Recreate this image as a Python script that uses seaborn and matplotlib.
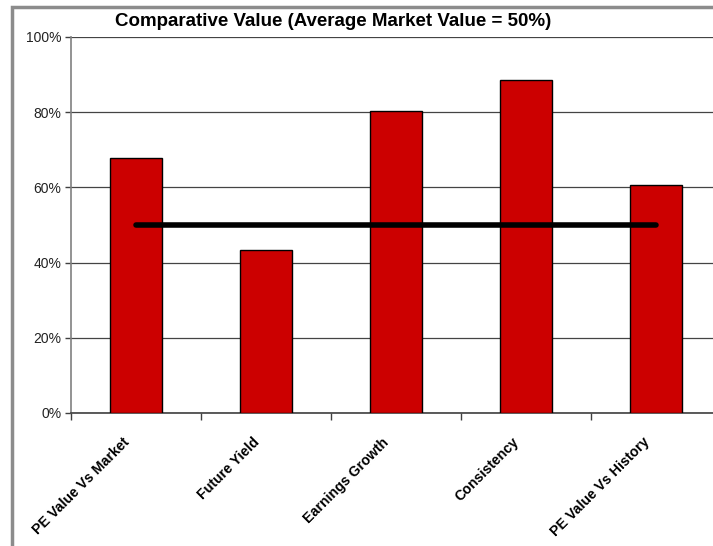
import matplotlib
matplotlib.use("Agg")
import matplotlib.pyplot as plt
import matplotlib.transforms as mtransforms
import seaborn as sns
import pandas as pd
from matplotlib.patches import Rectangle
from matplotlib.ticker import FuncFormatter, FixedLocator, NullFormatter

# Chart values (percent)
categories = ["PE Value Vs Market", "Future Yield", "Earnings Growth",
              "Consistency", "PE Value Vs History"]
scores = [67.8, 43.4, 80.3, 88.6, 60.6]
market_avg = 50
y_ticks = [0, 20, 40, 60, 80, 100]

df = pd.DataFrame({"category": categories, "score": scores})

sns.set_theme(style="white")
plt.rcParams["font.family"] = ["Liberation Sans", "DejaVu Sans"]

fig = plt.figure(figsize=(7.13, 5.46), dpi=100)
ax = fig.add_axes([71 / 713, 133 / 546, 650 / 713, 376 / 546])

# Grey chart-area border
fig.patches.append(Rectangle((12 / 713, -0.1), 1.2, (539 / 546) + 0.1,
                             transform=fig.transFigure, fill=False,
                             edgecolor="#8c8c8c", linewidth=2.5))

sns.barplot(data=df, x="category", y="score", color="#CC0000", width=0.4,
            edgecolor="black", linewidth=1.0, saturation=1, ax=ax, zorder=3)

# Average market value line
ax.plot([categories[0], categories[-1]], [market_avg, market_avg],
        color="black", linewidth=4, solid_capstyle="round", zorder=4)

ax.set_xlim(-0.5, len(categories) - 0.5)
ax.set_ylim(0, 100)
ax.set_yticks(y_ticks)
ax.yaxis.set_major_formatter(FuncFormatter(lambda v, p: f"{v:.0f}%"))
ax.yaxis.grid(True, color="#444444", linewidth=0.9, zorder=0)
ax.set_axisbelow(True)

# category boundary ticks; labels drawn separately, rotated
ax.xaxis.set_major_locator(FixedLocator([i - 0.5 for i in range(len(categories) + 1)]))
ax.xaxis.set_major_formatter(NullFormatter())
ax.tick_params(axis="x", which="major", length=5, width=1, color="#404040",
               direction="out", bottom=True)
ax.tick_params(axis="y", length=4, width=1, color="#404040", direction="out",
               left=True, labelsize=10, pad=3)
for lab in ax.get_yticklabels():
    lab.set_color("#222222")

base = mtransforms.blended_transform_factory(ax.transData, ax.transAxes)
shift = mtransforms.ScaledTranslation(-14 / 100, -22 / 100, fig.dpi_scale_trans)
for i, cat in enumerate(categories):
    ax.text(i, 0, cat, transform=base + shift, rotation=45, ha="right", va="top",
            rotation_mode="anchor", fontsize=10.2, fontweight="bold", color="black")

ax.set_xlabel("")
ax.set_ylabel("")
sns.despine(ax=ax, top=True, right=True)
ax.spines["left"].set_color("#808080")
ax.spines["left"].set_linewidth(1.2)
ax.spines["bottom"].set_color("#404040")
ax.spines["bottom"].set_linewidth(1.2)

fig.text(333 / 713, 1 - 22 / 546, "Comparative Value (Average Market Value = 50%)",
         ha="center", va="center", fontsize=13.5, fontweight="bold", color="black")

fig.savefig("out.png", dpi=100)
